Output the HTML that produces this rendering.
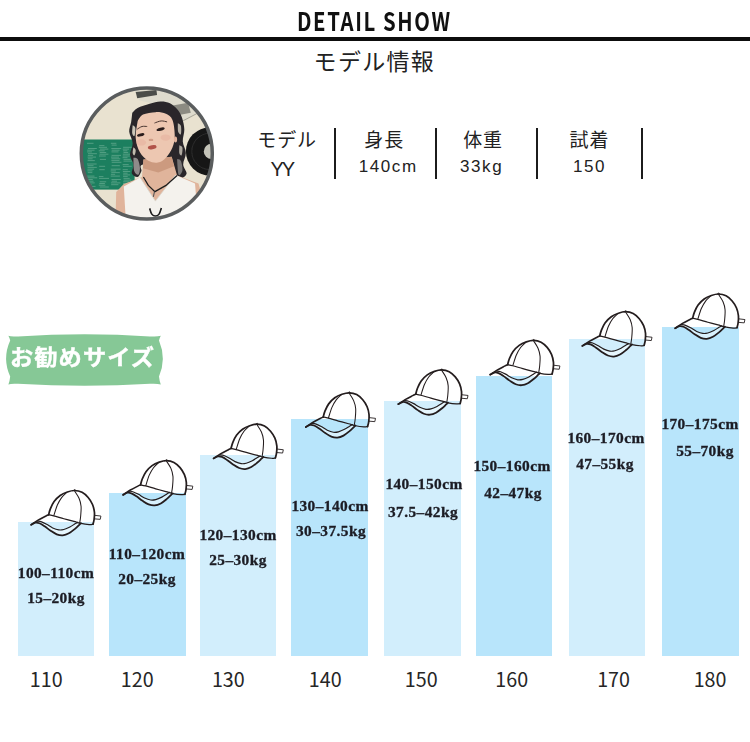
<!DOCTYPE html>
<html lang="ja">
<head>
<meta charset="utf-8">
<title>DETAIL SHOW</title>
<style>
html,body{margin:0;padding:0;background:#fff;}
body{width:750px;height:742px;position:relative;overflow:hidden;font-family:"Liberation Sans","Noto Sans CJK JP",sans-serif;color:#1a1a1a;}
.abs{position:absolute;white-space:nowrap;line-height:1;}
#title{left:297.2px;top:8.3px;font-family:"Noto Sans CJK JP","Liberation Sans",sans-serif;font-weight:700;font-size:25.4px;letter-spacing:2px;color:#111;transform-origin:0 0;transform:scaleX(0.8);}
#rule{position:absolute;left:0;top:36.7px;width:750px;height:4px;background:#0d0d0d;}
#sub{left:313.6px;top:48.8px;font-family:"Noto Sans CJK JP","Liberation Sans",sans-serif;font-size:23px;letter-spacing:1.3px;color:#222;}
.lab{font-family:"Noto Sans CJK JP","Liberation Sans",sans-serif;font-size:19px;letter-spacing:0.9px;color:#222;}
.val{font-family:"Liberation Sans","Noto Sans CJK JP",sans-serif;font-size:17px;letter-spacing:1.6px;color:#222;}
.sep{position:absolute;width:2px;top:127.5px;height:51.5px;background:#1c1c1c;}
.bar{position:absolute;}
.l{background:#d2eefc;}
.d{background:#b8e5fb;}
.bt{position:absolute;white-space:nowrap;line-height:1;font-family:"Liberation Serif","Noto Serif CJK SC",serif;font-weight:bold;font-size:14.5px;letter-spacing:0.4px;color:#1c1c24;text-align:center;transform:scaleX(1.06);-webkit-text-stroke:0.3px #1c1c24;}
.xl{position:absolute;white-space:nowrap;line-height:1;font-family:"Noto Sans CJK JP","Liberation Sans",sans-serif;font-size:19.7px;color:#262626;top:668.9px;}
#badgeTxt{left:10px;top:344.5px;font-family:"Noto Sans CJK JP","Liberation Sans",sans-serif;font-weight:bold;font-size:21.5px;letter-spacing:1px;color:#fff;transform-origin:0 0;transform:scaleX(1.08);-webkit-text-stroke:0.4px #fff;}
svg{position:absolute;left:0;top:0;}
</style>
</head>
<body>
<div id="title" class="abs">DETAIL SHOW</div>
<div id="rule"></div>
<div id="sub" class="abs">モデル情報</div>

<!-- model info -->
<div class="abs lab" style="left:257.3px;top:129px;">モデル</div>
<div class="abs val" style="left:270.5px;top:159px;font-size:20px;letter-spacing:-2px;">YY</div>
<div class="sep" style="left:334px;"></div>
<div class="abs lab" style="left:364.3px;top:129px;">身長</div>
<div class="abs val" style="left:358.7px;top:158px;">140cm</div>
<div class="sep" style="left:435px;"></div>
<div class="abs lab" style="left:463.2px;top:129px;">体重</div>
<div class="abs val" style="left:460px;top:158px;">33kg</div>
<div class="sep" style="left:536px;"></div>
<div class="abs lab" style="left:569.5px;top:129px;">試着</div>
<div class="abs val" style="left:573px;top:158px;">150</div>
<div class="sep" style="left:640.5px;"></div>

<!-- bars -->
<div class="bar l" style="left:17.7px;top:521.5px;width:76.6px;height:134.2px;"></div>
<div class="bar d" style="left:109.3px;top:492.5px;width:76.5px;height:163.2px;"></div>
<div class="bar l" style="left:200px;top:455.3px;width:76px;height:200.4px;"></div>
<div class="bar d" style="left:291.3px;top:419.2px;width:76.5px;height:236.5px;"></div>
<div class="bar l" style="left:384.2px;top:401.3px;width:76.6px;height:254.4px;"></div>
<div class="bar d" style="left:476px;top:375.5px;width:76.2px;height:280.2px;"></div>
<div class="bar l" style="left:569.2px;top:339.3px;width:76.3px;height:316.4px;"></div>
<div class="bar d" style="left:662px;top:327.3px;width:76.8px;height:328.4px;"></div>

<svg width="750" height="742" viewBox="0 0 750 742">
<defs><clipPath id="pc"><circle cx="146.8" cy="153.5" r="65.3"/></clipPath><filter id="bl" x="-5%" y="-5%" width="110%" height="110%"><feGaussianBlur stdDeviation="0.55"/></filter></defs>
<g clip-path="url(#pc)"><g filter="url(#bl)">
<rect x="76" y="84" width="142" height="142" fill="#e9e2d0"/>
<polygon points="132.5,86.9 179.3,85.0 198.5,112.7 185.1,121.3 166.0,107.0 139.2,100.3" fill="#dedbcd"/>
<polygon points="135.7,92.0 156.4,90.1 157.1,95.1 137.2,98.2" fill="#4c4d48"/>
<polygon points="172.7,105.4 188.0,102.8 190.8,112.7 176.5,115.6" fill="#8c8b82"/>
<polyline points="183.2,120.7 198.5,112.7 213.8,106.6" fill="none" stroke="#8f8c80" stroke-width="0.7"/>
<polyline points="83.7,139.5 83.7,103.1" fill="none" stroke="#b9b5a6" stroke-width="0.6"/>
<rect x="82.9" y="139.5" width="51.7" height="50.1" fill="#1f7f5f"/>
<path d="M87.0 143.3H93.5 M88.0 148.5H96.8 M87.2 150.2H94.5 M87.1 151.9H91.9 M88.0 153.7H96.9 M87.8 155.4H93.1 M87.6 157.1H96.0 M87.9 158.8H92.6 M87.7 160.6H94.8 M87.0 164.0H96.6 M87.5 165.7H93.5 M87.6 167.4H96.8 M87.5 169.2H94.1 M87.4 170.9H92.5 M87.8 172.6H92.3 M87.2 176.1H94.5 M87.3 177.8H97.2 M87.4 179.5H92.8 M87.2 181.2H93.5 M87.3 182.9H94.7 M87.0 184.7H91.6 M87.8 186.4H95.5 M99.2 145.6H104.4 M98.8 147.3H107.0 M99.9 149.1H108.3 M98.8 150.8H104.7 M99.7 152.5H106.2 M99.5 154.2H108.4 M99.0 156.0H105.8 M99.9 159.4H106.0 M99.2 166.3H105.1 M99.3 169.7H104.7 M98.9 176.6H103.4 M99.1 178.4H109.0 M99.7 181.8H106.2 M99.3 183.5H104.9 M98.8 185.2H105.4 M99.8 187.0H108.8 M110.9 143.3H116.3 M111.6 145.1H116.7 M111.3 148.5H121.2 M111.7 150.2H119.6 M111.5 151.9H118.5 M111.6 155.4H121.0 M111.0 157.1H119.0 M111.4 158.8H120.3 M111.4 160.6H119.5 M111.7 162.3H121.4 M111.7 165.7H119.8 M110.8 169.2H120.6 M110.7 170.9H115.9 M111.3 172.6H119.8 M110.9 174.3H115.1 M110.7 176.1H119.9 M111.5 179.5H120.8 M111.7 181.2H117.0 M111.0 182.9H120.4 M111.2 184.7H118.4 M123.1 147.3H132.2 M122.7 149.1H129.0 M123.1 150.8H127.4 M123.5 152.5H128.2 M122.9 154.2H131.7 M122.8 156.0H129.8 M122.6 157.7H127.5 M123.5 159.4H130.7 M123.5 161.1H132.2 M122.7 164.6H128.7 M123.0 166.3H131.8 M122.7 169.7H127.8 M122.9 171.5H130.2 M123.3 173.2H127.6 M123.1 174.9H130.1 M123.1 176.6H127.7 M123.5 178.4H129.7 M123.6 180.1H131.4 M123.2 181.8H129.2 M123.0 183.5H132.5 M123.5 185.2H132.2 M123.0 187.0H128.0" stroke="#7fbda3" stroke-width="0.75" opacity="0.7" fill="none"/>
<circle cx="210.0" cy="151.4" r="24.1" fill="#171717"/>
<circle cx="210.0" cy="151.4" r="18.2" fill="none" stroke="#3a3a3a" stroke-width="0.6"/>
<circle cx="211.5" cy="151.4" r="7.7" fill="#c4c3b8"/>
<path d="M132.27 112.71 C133.16 111.91 134.72 109.42 137.63 107.92 C140.53 106.42 145.89 104.80 149.68 103.71 C153.48 102.63 157.02 101.51 160.40 101.42 C163.78 101.32 167.16 101.83 169.97 103.14 C172.78 104.45 175.23 106.84 177.24 109.26 C179.25 111.69 180.85 114.30 182.03 117.68 C183.21 121.07 184.20 125.59 184.33 129.55 C184.45 133.51 182.54 137.52 182.79 141.42 C183.05 145.31 185.79 149.07 185.86 152.90 C185.92 156.73 183.05 160.94 183.18 164.38 C183.30 167.83 187.00 171.27 186.62 173.57 C186.24 175.87 182.89 178.10 180.88 178.16 C178.87 178.23 176.16 176.25 174.56 173.95 C172.97 171.66 176.57 165.98 171.31 164.38 C166.05 162.79 147.96 163.27 142.99 164.38 C138.01 165.50 142.35 168.98 141.45 171.08 C140.56 173.19 139.22 176.60 137.63 177.01 C136.03 177.43 132.59 175.67 131.89 173.57 C131.18 171.46 133.74 167.51 133.42 164.38 C133.10 161.26 130.10 158.32 129.97 154.81 C129.84 151.30 132.78 147.16 132.65 143.33 C132.52 139.50 129.46 135.36 129.21 131.85 C128.95 128.34 130.61 125.47 131.12 122.28 C131.63 119.09 132.08 114.30 132.27 112.71Z" fill="#29272a"/>
<path d="M132.65 125.15 C133.10 125.56 135.01 125.88 135.33 127.64 C135.65 129.39 135.07 134.72 134.56 135.67 C134.05 136.63 132.59 135.13 132.27 133.38 C131.95 131.62 132.59 126.52 132.65 125.15Z" fill="#e9e2d0" opacity="0.85"/>
<path d="M133.42 147.16 C133.80 147.64 135.52 148.69 135.71 150.03 C135.90 151.37 135.07 154.72 134.56 155.20 C134.05 155.67 132.84 154.24 132.65 152.90 C132.46 151.56 133.29 148.11 133.42 147.16Z" fill="#e9e2d0" opacity="0.8"/>
<path d="M177.82 123.23 C178.33 123.65 180.37 123.90 180.88 125.72 C181.39 127.54 181.33 133.12 180.88 134.14 C180.43 135.16 178.71 133.67 178.20 131.85 C177.69 130.03 177.88 124.67 177.82 123.23Z" fill="#ddd7c8" opacity="0.8"/>
<path d="M179.35 145.24 C179.86 145.63 182.03 145.88 182.41 147.54 C182.79 149.20 182.16 154.24 181.65 155.20 C181.14 156.15 179.73 154.94 179.35 153.28 C178.97 151.62 179.35 146.58 179.35 145.24Z" fill="#ddd7c8" opacity="0.75"/>
<path d="M133.42 157.68 C134.12 157.91 136.54 157.33 137.63 159.02 C138.71 160.71 139.80 165.21 139.92 167.83 C140.05 170.44 139.35 174.18 138.39 174.72 C137.44 175.26 135.01 173.92 134.18 171.08 C133.35 168.24 133.54 159.92 133.42 157.68Z" fill="#a9a5a3" opacity="0.8"/>
<path d="M177.05 159.02 C177.69 159.34 179.99 159.02 180.88 160.94 C181.77 162.85 182.79 168.21 182.41 170.51 C182.03 172.80 179.48 176.63 178.58 174.72 C177.69 172.80 177.31 161.64 177.05 159.02Z" fill="#9a9795" opacity="0.7"/>
<polygon points="143.4,159.6 171.7,156.7 177.1,175.5 198.5,183.5 202.7,198.8 198.5,223.7 115.4,223.7 116.2,192.1 123.8,183.9 142.0,177.0" fill="#e0b49b"/>
<polygon points="143.4,159.6 171.7,156.7 174.0,166.3 158.3,172.4 143.0,168.2" fill="#c8957a" opacity="0.85"/>
<path d="M137.63 121.13 C138.52 120.04 139.99 116.12 142.99 114.62 C145.98 113.12 151.79 112.26 155.62 112.13 C159.44 112.01 163.15 112.55 165.95 113.86 C168.76 115.16 170.99 116.34 172.46 119.98 C173.93 123.62 174.76 131.08 174.76 135.67 C174.76 140.27 173.93 143.87 172.46 147.54 C170.99 151.21 168.38 155.20 165.95 157.68 C163.53 160.17 160.85 161.96 157.91 162.47 C154.98 162.98 151.34 162.44 148.34 160.75 C145.35 159.06 142.03 156.12 139.92 152.33 C137.82 148.53 136.10 143.17 135.71 137.97 C135.33 132.77 137.31 123.94 137.63 121.13Z" fill="#edc7b1"/>
<ellipse cx="175.5" cy="139.5" rx="1.6" ry="3" fill="#e2b49e"/>
<path d="M137.24 129.17 C138.04 128.72 140.37 126.93 142.03 126.49 C143.69 126.04 146.33 126.49 147.20 126.49" stroke="#4a3631" stroke-width="1" fill="none"/>
<path d="M154.47 123.04 C155.59 122.69 159.06 121.13 161.17 120.94 C163.27 120.75 166.11 121.74 167.10 121.89" stroke="#4a3631" stroke-width="1" fill="none"/>
<ellipse cx="140.7" cy="134.9" rx="3.8" ry="1.5" fill="#2b1f1e" transform="rotate(-14 140.7 134.9)"/>
<ellipse cx="160.6" cy="129.2" rx="4.2" ry="1.5" fill="#2b1f1e" transform="rotate(-14 160.6 129.2)"/>
<ellipse cx="151.0" cy="139.9" rx="2.4" ry="1.2" fill="#cf9c86"/>
<ellipse cx="152.2" cy="147.3" rx="4.4" ry="2" fill="#b1524a" transform="rotate(-10 152.2 147.3)"/>
<ellipse cx="141.1" cy="142.4" rx="5" ry="3.2" fill="#e2a392" opacity="0.35"/>
<ellipse cx="165.6" cy="137.6" rx="5" ry="3.2" fill="#e2a392" opacity="0.35"/>
<polygon points="123.8,186.4 140.1,177.4 155.4,201.1 175.5,175.1 195.0,183.5 198.5,225.6 126.1,225.6" fill="#f4f2ed"/>
<polyline points="140.1,177.4 155.4,201.1 175.5,175.1" fill="none" stroke="#d9d5cc" stroke-width="0.8"/>
<polyline points="143.4,177.0 148.3,185.4 154.9,191.6 166.0,185.4 177.1,175.5" fill="none" stroke="#1f1f1f" stroke-width="1.3"/>
<polyline points="154.5,191.6 153.3,196.9" fill="none" stroke="#555" stroke-width="1.1"/>
<path d="M149.68 208.40 C150.04 209.36 150.83 212.87 151.79 214.14 C152.75 215.42 154.21 216.06 155.43 216.06 C156.64 216.06 158.07 215.48 159.06 214.14 C160.05 212.80 160.98 209.04 161.36 208.02" fill="none" stroke="#1a1a1a" stroke-width="1.6"/>
</g></g>
<circle cx="146.8" cy="153.5" r="65.5" fill="none" stroke="#5a5d5e" stroke-width="3.5"/>
<path d="M8.4 335.8 Q11 337 18 336.4 Q85 332.2 150 336.4 Q157 337 160.8 335.8 Q159.6 338 159 340.6 Q166.6 358.6 159 376.6 Q159.6 382 160.8 384.4 Q157 383.4 150 383.8 Q85 387.6 18 383.8 Q11 383.4 8.4 384.4 Q9.6 382 10.2 376.6 Q2 358.6 10.2 340.6 Q9.6 338 8.4 335.8Z" fill="#86c896"/>
<g transform="translate(31.2 489.8) scale(1 0.985)" fill="none" stroke="#241d1e" stroke-linecap="round" stroke-linejoin="round">
<path d="M4.26 33.34 C4.93 33.44 6.79 33.34 8.31 33.95 C9.83 34.56 11.52 35.72 13.38 36.99 C15.23 38.25 17.43 40.18 19.46 41.55 C21.48 42.92 23.51 44.42 25.54 45.20 C27.56 45.97 29.59 46.38 31.62 46.21 C33.64 46.04 35.67 45.28 37.70 44.18 C39.72 43.09 42.09 41.02 43.78 39.62 C45.47 38.22 46.85 36.72 47.83 35.77 C48.81 34.83 49.35 34.25 49.66 33.95 L46.62 32.93 C46.14 33.20 45.10 33.75 43.78 34.56 C42.46 35.37 40.57 36.84 38.71 37.80 C36.85 38.76 34.49 39.84 32.63 40.33 C30.77 40.82 29.42 41.01 27.56 40.74 C25.71 40.47 23.51 39.67 21.48 38.71 C19.46 37.75 17.26 35.99 15.40 34.96 C13.55 33.93 11.89 33.07 10.34 32.53 C8.78 31.99 6.79 31.85 6.08 31.72Z" fill="#fff" fill-opacity="0.45" stroke="none"/>
<path d="M17.43 25.33 C17.72 24.34 18.24 21.58 19.15 19.36 C20.06 17.13 21.26 14.22 22.90 11.96 C24.54 9.69 26.77 7.40 28.98 5.78 C31.20 4.15 33.80 3.07 36.18 2.23 C38.56 1.38 40.82 0.66 43.27 0.71 C45.72 0.76 48.59 1.35 50.87 2.53 C53.15 3.72 55.21 5.74 56.95 7.80 C58.69 9.86 60.26 12.40 61.31 14.90 C62.36 17.40 62.96 20.30 63.23 22.80 C63.50 25.30 63.17 27.87 62.93 29.89 C62.69 31.92 62.00 34.12 61.82 34.96" stroke-width="1.75"/>
<path d="M17.43 25.33 C18.27 25.52 19.96 25.77 22.50 26.45 C25.03 27.12 29.25 28.44 32.63 29.39 C36.01 30.33 39.89 31.33 42.76 32.12 C45.64 32.92 47.32 33.63 49.86 34.15 C52.39 34.67 55.97 35.13 57.97 35.27 C59.96 35.40 61.17 35.01 61.82 34.96" stroke-width="1.25"/>
<path d="M0.00 35.47 C1.22 34.66 4.90 32.04 7.30 30.60 C9.69 29.17 12.70 27.73 14.39 26.85 C16.08 25.98 16.92 25.59 17.43 25.33" stroke-width="1.6"/>
<path d="M0.00 35.47 C0.71 35.11 2.87 33.59 4.26 33.34 C5.64 33.09 6.79 33.34 8.31 33.95 C9.83 34.56 11.52 35.72 13.38 36.99 C15.23 38.25 17.43 40.18 19.46 41.55 C21.48 42.92 23.51 44.42 25.54 45.20 C27.56 45.97 29.59 46.38 31.62 46.21 C33.64 46.04 35.67 45.28 37.70 44.18 C39.72 43.09 42.09 41.02 43.78 39.62 C45.47 38.22 46.85 36.72 47.83 35.77 C48.81 34.83 49.35 34.25 49.66 33.95" stroke-width="1.8"/>
<path d="M6.08 31.72 C6.79 31.85 8.78 31.99 10.34 32.53 C11.89 33.07 13.55 33.93 15.40 34.96 C17.26 35.99 19.46 37.75 21.48 38.71 C23.51 39.67 25.71 40.47 27.56 40.74 C29.42 41.01 30.77 40.82 32.63 40.33 C34.49 39.84 36.85 38.76 38.71 37.80 C40.57 36.84 42.46 35.37 43.78 34.56 C45.10 33.75 46.14 33.20 46.62 32.93" stroke-width="1.2"/>
<path d="M43.27 1.01 C44.03 2.28 46.73 6.00 47.83 8.61 C48.93 11.23 49.59 13.68 49.86 16.72 C50.13 19.76 49.69 24.02 49.45 26.85 C49.22 29.69 48.61 32.60 48.44 33.75" stroke-width="1.05"/>
<path d="M35.47 2.74 C34.62 3.60 31.96 5.78 30.40 7.90 C28.85 10.03 27.43 12.48 26.15 15.50 C24.86 18.53 23.27 24.29 22.70 26.04" stroke-width="1.05"/>
<path d="M42.06 1.01 C42.31 0.81 43.09 -0.22 43.58 -0.20 C44.06 -0.19 44.76 0.90 44.99 1.11" stroke-width="1.0"/>
<path d="M63.54 25.94 L69.72 26.65 L69.01 30.00 L63.13 29.49" stroke-width="0.9"/>
</g>
<g transform="translate(123.1 459.9) scale(1 0.985)" fill="none" stroke="#241d1e" stroke-linecap="round" stroke-linejoin="round">
<path d="M4.26 33.34 C4.93 33.44 6.79 33.34 8.31 33.95 C9.83 34.56 11.52 35.72 13.38 36.99 C15.23 38.25 17.43 40.18 19.46 41.55 C21.48 42.92 23.51 44.42 25.54 45.20 C27.56 45.97 29.59 46.38 31.62 46.21 C33.64 46.04 35.67 45.28 37.70 44.18 C39.72 43.09 42.09 41.02 43.78 39.62 C45.47 38.22 46.85 36.72 47.83 35.77 C48.81 34.83 49.35 34.25 49.66 33.95 L46.62 32.93 C46.14 33.20 45.10 33.75 43.78 34.56 C42.46 35.37 40.57 36.84 38.71 37.80 C36.85 38.76 34.49 39.84 32.63 40.33 C30.77 40.82 29.42 41.01 27.56 40.74 C25.71 40.47 23.51 39.67 21.48 38.71 C19.46 37.75 17.26 35.99 15.40 34.96 C13.55 33.93 11.89 33.07 10.34 32.53 C8.78 31.99 6.79 31.85 6.08 31.72Z" fill="#fff" fill-opacity="0.45" stroke="none"/>
<path d="M17.43 25.33 C17.72 24.34 18.24 21.58 19.15 19.36 C20.06 17.13 21.26 14.22 22.90 11.96 C24.54 9.69 26.77 7.40 28.98 5.78 C31.20 4.15 33.80 3.07 36.18 2.23 C38.56 1.38 40.82 0.66 43.27 0.71 C45.72 0.76 48.59 1.35 50.87 2.53 C53.15 3.72 55.21 5.74 56.95 7.80 C58.69 9.86 60.26 12.40 61.31 14.90 C62.36 17.40 62.96 20.30 63.23 22.80 C63.50 25.30 63.17 27.87 62.93 29.89 C62.69 31.92 62.00 34.12 61.82 34.96" stroke-width="1.75"/>
<path d="M17.43 25.33 C18.27 25.52 19.96 25.77 22.50 26.45 C25.03 27.12 29.25 28.44 32.63 29.39 C36.01 30.33 39.89 31.33 42.76 32.12 C45.64 32.92 47.32 33.63 49.86 34.15 C52.39 34.67 55.97 35.13 57.97 35.27 C59.96 35.40 61.17 35.01 61.82 34.96" stroke-width="1.25"/>
<path d="M0.00 35.47 C1.22 34.66 4.90 32.04 7.30 30.60 C9.69 29.17 12.70 27.73 14.39 26.85 C16.08 25.98 16.92 25.59 17.43 25.33" stroke-width="1.6"/>
<path d="M0.00 35.47 C0.71 35.11 2.87 33.59 4.26 33.34 C5.64 33.09 6.79 33.34 8.31 33.95 C9.83 34.56 11.52 35.72 13.38 36.99 C15.23 38.25 17.43 40.18 19.46 41.55 C21.48 42.92 23.51 44.42 25.54 45.20 C27.56 45.97 29.59 46.38 31.62 46.21 C33.64 46.04 35.67 45.28 37.70 44.18 C39.72 43.09 42.09 41.02 43.78 39.62 C45.47 38.22 46.85 36.72 47.83 35.77 C48.81 34.83 49.35 34.25 49.66 33.95" stroke-width="1.8"/>
<path d="M6.08 31.72 C6.79 31.85 8.78 31.99 10.34 32.53 C11.89 33.07 13.55 33.93 15.40 34.96 C17.26 35.99 19.46 37.75 21.48 38.71 C23.51 39.67 25.71 40.47 27.56 40.74 C29.42 41.01 30.77 40.82 32.63 40.33 C34.49 39.84 36.85 38.76 38.71 37.80 C40.57 36.84 42.46 35.37 43.78 34.56 C45.10 33.75 46.14 33.20 46.62 32.93" stroke-width="1.2"/>
<path d="M43.27 1.01 C44.03 2.28 46.73 6.00 47.83 8.61 C48.93 11.23 49.59 13.68 49.86 16.72 C50.13 19.76 49.69 24.02 49.45 26.85 C49.22 29.69 48.61 32.60 48.44 33.75" stroke-width="1.05"/>
<path d="M35.47 2.74 C34.62 3.60 31.96 5.78 30.40 7.90 C28.85 10.03 27.43 12.48 26.15 15.50 C24.86 18.53 23.27 24.29 22.70 26.04" stroke-width="1.05"/>
<path d="M42.06 1.01 C42.31 0.81 43.09 -0.22 43.58 -0.20 C44.06 -0.19 44.76 0.90 44.99 1.11" stroke-width="1.0"/>
<path d="M63.54 25.94 L69.72 26.65 L69.01 30.00 L63.13 29.49" stroke-width="0.9"/>
</g>
<g transform="translate(213.6 423.5) scale(1 0.985)" fill="none" stroke="#241d1e" stroke-linecap="round" stroke-linejoin="round">
<path d="M4.26 33.34 C4.93 33.44 6.79 33.34 8.31 33.95 C9.83 34.56 11.52 35.72 13.38 36.99 C15.23 38.25 17.43 40.18 19.46 41.55 C21.48 42.92 23.51 44.42 25.54 45.20 C27.56 45.97 29.59 46.38 31.62 46.21 C33.64 46.04 35.67 45.28 37.70 44.18 C39.72 43.09 42.09 41.02 43.78 39.62 C45.47 38.22 46.85 36.72 47.83 35.77 C48.81 34.83 49.35 34.25 49.66 33.95 L46.62 32.93 C46.14 33.20 45.10 33.75 43.78 34.56 C42.46 35.37 40.57 36.84 38.71 37.80 C36.85 38.76 34.49 39.84 32.63 40.33 C30.77 40.82 29.42 41.01 27.56 40.74 C25.71 40.47 23.51 39.67 21.48 38.71 C19.46 37.75 17.26 35.99 15.40 34.96 C13.55 33.93 11.89 33.07 10.34 32.53 C8.78 31.99 6.79 31.85 6.08 31.72Z" fill="#fff" fill-opacity="0.45" stroke="none"/>
<path d="M17.43 25.33 C17.72 24.34 18.24 21.58 19.15 19.36 C20.06 17.13 21.26 14.22 22.90 11.96 C24.54 9.69 26.77 7.40 28.98 5.78 C31.20 4.15 33.80 3.07 36.18 2.23 C38.56 1.38 40.82 0.66 43.27 0.71 C45.72 0.76 48.59 1.35 50.87 2.53 C53.15 3.72 55.21 5.74 56.95 7.80 C58.69 9.86 60.26 12.40 61.31 14.90 C62.36 17.40 62.96 20.30 63.23 22.80 C63.50 25.30 63.17 27.87 62.93 29.89 C62.69 31.92 62.00 34.12 61.82 34.96" stroke-width="1.75"/>
<path d="M17.43 25.33 C18.27 25.52 19.96 25.77 22.50 26.45 C25.03 27.12 29.25 28.44 32.63 29.39 C36.01 30.33 39.89 31.33 42.76 32.12 C45.64 32.92 47.32 33.63 49.86 34.15 C52.39 34.67 55.97 35.13 57.97 35.27 C59.96 35.40 61.17 35.01 61.82 34.96" stroke-width="1.25"/>
<path d="M0.00 35.47 C1.22 34.66 4.90 32.04 7.30 30.60 C9.69 29.17 12.70 27.73 14.39 26.85 C16.08 25.98 16.92 25.59 17.43 25.33" stroke-width="1.6"/>
<path d="M0.00 35.47 C0.71 35.11 2.87 33.59 4.26 33.34 C5.64 33.09 6.79 33.34 8.31 33.95 C9.83 34.56 11.52 35.72 13.38 36.99 C15.23 38.25 17.43 40.18 19.46 41.55 C21.48 42.92 23.51 44.42 25.54 45.20 C27.56 45.97 29.59 46.38 31.62 46.21 C33.64 46.04 35.67 45.28 37.70 44.18 C39.72 43.09 42.09 41.02 43.78 39.62 C45.47 38.22 46.85 36.72 47.83 35.77 C48.81 34.83 49.35 34.25 49.66 33.95" stroke-width="1.8"/>
<path d="M6.08 31.72 C6.79 31.85 8.78 31.99 10.34 32.53 C11.89 33.07 13.55 33.93 15.40 34.96 C17.26 35.99 19.46 37.75 21.48 38.71 C23.51 39.67 25.71 40.47 27.56 40.74 C29.42 41.01 30.77 40.82 32.63 40.33 C34.49 39.84 36.85 38.76 38.71 37.80 C40.57 36.84 42.46 35.37 43.78 34.56 C45.10 33.75 46.14 33.20 46.62 32.93" stroke-width="1.2"/>
<path d="M43.27 1.01 C44.03 2.28 46.73 6.00 47.83 8.61 C48.93 11.23 49.59 13.68 49.86 16.72 C50.13 19.76 49.69 24.02 49.45 26.85 C49.22 29.69 48.61 32.60 48.44 33.75" stroke-width="1.05"/>
<path d="M35.47 2.74 C34.62 3.60 31.96 5.78 30.40 7.90 C28.85 10.03 27.43 12.48 26.15 15.50 C24.86 18.53 23.27 24.29 22.70 26.04" stroke-width="1.05"/>
<path d="M42.06 1.01 C42.31 0.81 43.09 -0.22 43.58 -0.20 C44.06 -0.19 44.76 0.90 44.99 1.11" stroke-width="1.0"/>
<path d="M63.54 25.94 L69.72 26.65 L69.01 30.00 L63.13 29.49" stroke-width="0.9"/>
</g>
<g transform="translate(305.8 392.1) scale(1 0.985)" fill="none" stroke="#241d1e" stroke-linecap="round" stroke-linejoin="round">
<path d="M4.26 33.34 C4.93 33.44 6.79 33.34 8.31 33.95 C9.83 34.56 11.52 35.72 13.38 36.99 C15.23 38.25 17.43 40.18 19.46 41.55 C21.48 42.92 23.51 44.42 25.54 45.20 C27.56 45.97 29.59 46.38 31.62 46.21 C33.64 46.04 35.67 45.28 37.70 44.18 C39.72 43.09 42.09 41.02 43.78 39.62 C45.47 38.22 46.85 36.72 47.83 35.77 C48.81 34.83 49.35 34.25 49.66 33.95 L46.62 32.93 C46.14 33.20 45.10 33.75 43.78 34.56 C42.46 35.37 40.57 36.84 38.71 37.80 C36.85 38.76 34.49 39.84 32.63 40.33 C30.77 40.82 29.42 41.01 27.56 40.74 C25.71 40.47 23.51 39.67 21.48 38.71 C19.46 37.75 17.26 35.99 15.40 34.96 C13.55 33.93 11.89 33.07 10.34 32.53 C8.78 31.99 6.79 31.85 6.08 31.72Z" fill="#fff" fill-opacity="0.45" stroke="none"/>
<path d="M17.43 25.33 C17.72 24.34 18.24 21.58 19.15 19.36 C20.06 17.13 21.26 14.22 22.90 11.96 C24.54 9.69 26.77 7.40 28.98 5.78 C31.20 4.15 33.80 3.07 36.18 2.23 C38.56 1.38 40.82 0.66 43.27 0.71 C45.72 0.76 48.59 1.35 50.87 2.53 C53.15 3.72 55.21 5.74 56.95 7.80 C58.69 9.86 60.26 12.40 61.31 14.90 C62.36 17.40 62.96 20.30 63.23 22.80 C63.50 25.30 63.17 27.87 62.93 29.89 C62.69 31.92 62.00 34.12 61.82 34.96" stroke-width="1.75"/>
<path d="M17.43 25.33 C18.27 25.52 19.96 25.77 22.50 26.45 C25.03 27.12 29.25 28.44 32.63 29.39 C36.01 30.33 39.89 31.33 42.76 32.12 C45.64 32.92 47.32 33.63 49.86 34.15 C52.39 34.67 55.97 35.13 57.97 35.27 C59.96 35.40 61.17 35.01 61.82 34.96" stroke-width="1.25"/>
<path d="M0.00 35.47 C1.22 34.66 4.90 32.04 7.30 30.60 C9.69 29.17 12.70 27.73 14.39 26.85 C16.08 25.98 16.92 25.59 17.43 25.33" stroke-width="1.6"/>
<path d="M0.00 35.47 C0.71 35.11 2.87 33.59 4.26 33.34 C5.64 33.09 6.79 33.34 8.31 33.95 C9.83 34.56 11.52 35.72 13.38 36.99 C15.23 38.25 17.43 40.18 19.46 41.55 C21.48 42.92 23.51 44.42 25.54 45.20 C27.56 45.97 29.59 46.38 31.62 46.21 C33.64 46.04 35.67 45.28 37.70 44.18 C39.72 43.09 42.09 41.02 43.78 39.62 C45.47 38.22 46.85 36.72 47.83 35.77 C48.81 34.83 49.35 34.25 49.66 33.95" stroke-width="1.8"/>
<path d="M6.08 31.72 C6.79 31.85 8.78 31.99 10.34 32.53 C11.89 33.07 13.55 33.93 15.40 34.96 C17.26 35.99 19.46 37.75 21.48 38.71 C23.51 39.67 25.71 40.47 27.56 40.74 C29.42 41.01 30.77 40.82 32.63 40.33 C34.49 39.84 36.85 38.76 38.71 37.80 C40.57 36.84 42.46 35.37 43.78 34.56 C45.10 33.75 46.14 33.20 46.62 32.93" stroke-width="1.2"/>
<path d="M43.27 1.01 C44.03 2.28 46.73 6.00 47.83 8.61 C48.93 11.23 49.59 13.68 49.86 16.72 C50.13 19.76 49.69 24.02 49.45 26.85 C49.22 29.69 48.61 32.60 48.44 33.75" stroke-width="1.05"/>
<path d="M35.47 2.74 C34.62 3.60 31.96 5.78 30.40 7.90 C28.85 10.03 27.43 12.48 26.15 15.50 C24.86 18.53 23.27 24.29 22.70 26.04" stroke-width="1.05"/>
<path d="M42.06 1.01 C42.31 0.81 43.09 -0.22 43.58 -0.20 C44.06 -0.19 44.76 0.90 44.99 1.11" stroke-width="1.0"/>
<path d="M63.54 25.94 L69.72 26.65 L69.01 30.00 L63.13 29.49" stroke-width="0.9"/>
</g>
<g transform="translate(398.3 369.2) scale(1 0.985)" fill="none" stroke="#241d1e" stroke-linecap="round" stroke-linejoin="round">
<path d="M4.26 33.34 C4.93 33.44 6.79 33.34 8.31 33.95 C9.83 34.56 11.52 35.72 13.38 36.99 C15.23 38.25 17.43 40.18 19.46 41.55 C21.48 42.92 23.51 44.42 25.54 45.20 C27.56 45.97 29.59 46.38 31.62 46.21 C33.64 46.04 35.67 45.28 37.70 44.18 C39.72 43.09 42.09 41.02 43.78 39.62 C45.47 38.22 46.85 36.72 47.83 35.77 C48.81 34.83 49.35 34.25 49.66 33.95 L46.62 32.93 C46.14 33.20 45.10 33.75 43.78 34.56 C42.46 35.37 40.57 36.84 38.71 37.80 C36.85 38.76 34.49 39.84 32.63 40.33 C30.77 40.82 29.42 41.01 27.56 40.74 C25.71 40.47 23.51 39.67 21.48 38.71 C19.46 37.75 17.26 35.99 15.40 34.96 C13.55 33.93 11.89 33.07 10.34 32.53 C8.78 31.99 6.79 31.85 6.08 31.72Z" fill="#fff" fill-opacity="0.45" stroke="none"/>
<path d="M17.43 25.33 C17.72 24.34 18.24 21.58 19.15 19.36 C20.06 17.13 21.26 14.22 22.90 11.96 C24.54 9.69 26.77 7.40 28.98 5.78 C31.20 4.15 33.80 3.07 36.18 2.23 C38.56 1.38 40.82 0.66 43.27 0.71 C45.72 0.76 48.59 1.35 50.87 2.53 C53.15 3.72 55.21 5.74 56.95 7.80 C58.69 9.86 60.26 12.40 61.31 14.90 C62.36 17.40 62.96 20.30 63.23 22.80 C63.50 25.30 63.17 27.87 62.93 29.89 C62.69 31.92 62.00 34.12 61.82 34.96" stroke-width="1.75"/>
<path d="M17.43 25.33 C18.27 25.52 19.96 25.77 22.50 26.45 C25.03 27.12 29.25 28.44 32.63 29.39 C36.01 30.33 39.89 31.33 42.76 32.12 C45.64 32.92 47.32 33.63 49.86 34.15 C52.39 34.67 55.97 35.13 57.97 35.27 C59.96 35.40 61.17 35.01 61.82 34.96" stroke-width="1.25"/>
<path d="M0.00 35.47 C1.22 34.66 4.90 32.04 7.30 30.60 C9.69 29.17 12.70 27.73 14.39 26.85 C16.08 25.98 16.92 25.59 17.43 25.33" stroke-width="1.6"/>
<path d="M0.00 35.47 C0.71 35.11 2.87 33.59 4.26 33.34 C5.64 33.09 6.79 33.34 8.31 33.95 C9.83 34.56 11.52 35.72 13.38 36.99 C15.23 38.25 17.43 40.18 19.46 41.55 C21.48 42.92 23.51 44.42 25.54 45.20 C27.56 45.97 29.59 46.38 31.62 46.21 C33.64 46.04 35.67 45.28 37.70 44.18 C39.72 43.09 42.09 41.02 43.78 39.62 C45.47 38.22 46.85 36.72 47.83 35.77 C48.81 34.83 49.35 34.25 49.66 33.95" stroke-width="1.8"/>
<path d="M6.08 31.72 C6.79 31.85 8.78 31.99 10.34 32.53 C11.89 33.07 13.55 33.93 15.40 34.96 C17.26 35.99 19.46 37.75 21.48 38.71 C23.51 39.67 25.71 40.47 27.56 40.74 C29.42 41.01 30.77 40.82 32.63 40.33 C34.49 39.84 36.85 38.76 38.71 37.80 C40.57 36.84 42.46 35.37 43.78 34.56 C45.10 33.75 46.14 33.20 46.62 32.93" stroke-width="1.2"/>
<path d="M43.27 1.01 C44.03 2.28 46.73 6.00 47.83 8.61 C48.93 11.23 49.59 13.68 49.86 16.72 C50.13 19.76 49.69 24.02 49.45 26.85 C49.22 29.69 48.61 32.60 48.44 33.75" stroke-width="1.05"/>
<path d="M35.47 2.74 C34.62 3.60 31.96 5.78 30.40 7.90 C28.85 10.03 27.43 12.48 26.15 15.50 C24.86 18.53 23.27 24.29 22.70 26.04" stroke-width="1.05"/>
<path d="M42.06 1.01 C42.31 0.81 43.09 -0.22 43.58 -0.20 C44.06 -0.19 44.76 0.90 44.99 1.11" stroke-width="1.0"/>
<path d="M63.54 25.94 L69.72 26.65 L69.01 30.00 L63.13 29.49" stroke-width="0.9"/>
</g>
<g transform="translate(490.2 339.7) scale(1 0.985)" fill="none" stroke="#241d1e" stroke-linecap="round" stroke-linejoin="round">
<path d="M4.26 33.34 C4.93 33.44 6.79 33.34 8.31 33.95 C9.83 34.56 11.52 35.72 13.38 36.99 C15.23 38.25 17.43 40.18 19.46 41.55 C21.48 42.92 23.51 44.42 25.54 45.20 C27.56 45.97 29.59 46.38 31.62 46.21 C33.64 46.04 35.67 45.28 37.70 44.18 C39.72 43.09 42.09 41.02 43.78 39.62 C45.47 38.22 46.85 36.72 47.83 35.77 C48.81 34.83 49.35 34.25 49.66 33.95 L46.62 32.93 C46.14 33.20 45.10 33.75 43.78 34.56 C42.46 35.37 40.57 36.84 38.71 37.80 C36.85 38.76 34.49 39.84 32.63 40.33 C30.77 40.82 29.42 41.01 27.56 40.74 C25.71 40.47 23.51 39.67 21.48 38.71 C19.46 37.75 17.26 35.99 15.40 34.96 C13.55 33.93 11.89 33.07 10.34 32.53 C8.78 31.99 6.79 31.85 6.08 31.72Z" fill="#fff" fill-opacity="0.45" stroke="none"/>
<path d="M17.43 25.33 C17.72 24.34 18.24 21.58 19.15 19.36 C20.06 17.13 21.26 14.22 22.90 11.96 C24.54 9.69 26.77 7.40 28.98 5.78 C31.20 4.15 33.80 3.07 36.18 2.23 C38.56 1.38 40.82 0.66 43.27 0.71 C45.72 0.76 48.59 1.35 50.87 2.53 C53.15 3.72 55.21 5.74 56.95 7.80 C58.69 9.86 60.26 12.40 61.31 14.90 C62.36 17.40 62.96 20.30 63.23 22.80 C63.50 25.30 63.17 27.87 62.93 29.89 C62.69 31.92 62.00 34.12 61.82 34.96" stroke-width="1.75"/>
<path d="M17.43 25.33 C18.27 25.52 19.96 25.77 22.50 26.45 C25.03 27.12 29.25 28.44 32.63 29.39 C36.01 30.33 39.89 31.33 42.76 32.12 C45.64 32.92 47.32 33.63 49.86 34.15 C52.39 34.67 55.97 35.13 57.97 35.27 C59.96 35.40 61.17 35.01 61.82 34.96" stroke-width="1.25"/>
<path d="M0.00 35.47 C1.22 34.66 4.90 32.04 7.30 30.60 C9.69 29.17 12.70 27.73 14.39 26.85 C16.08 25.98 16.92 25.59 17.43 25.33" stroke-width="1.6"/>
<path d="M0.00 35.47 C0.71 35.11 2.87 33.59 4.26 33.34 C5.64 33.09 6.79 33.34 8.31 33.95 C9.83 34.56 11.52 35.72 13.38 36.99 C15.23 38.25 17.43 40.18 19.46 41.55 C21.48 42.92 23.51 44.42 25.54 45.20 C27.56 45.97 29.59 46.38 31.62 46.21 C33.64 46.04 35.67 45.28 37.70 44.18 C39.72 43.09 42.09 41.02 43.78 39.62 C45.47 38.22 46.85 36.72 47.83 35.77 C48.81 34.83 49.35 34.25 49.66 33.95" stroke-width="1.8"/>
<path d="M6.08 31.72 C6.79 31.85 8.78 31.99 10.34 32.53 C11.89 33.07 13.55 33.93 15.40 34.96 C17.26 35.99 19.46 37.75 21.48 38.71 C23.51 39.67 25.71 40.47 27.56 40.74 C29.42 41.01 30.77 40.82 32.63 40.33 C34.49 39.84 36.85 38.76 38.71 37.80 C40.57 36.84 42.46 35.37 43.78 34.56 C45.10 33.75 46.14 33.20 46.62 32.93" stroke-width="1.2"/>
<path d="M43.27 1.01 C44.03 2.28 46.73 6.00 47.83 8.61 C48.93 11.23 49.59 13.68 49.86 16.72 C50.13 19.76 49.69 24.02 49.45 26.85 C49.22 29.69 48.61 32.60 48.44 33.75" stroke-width="1.05"/>
<path d="M35.47 2.74 C34.62 3.60 31.96 5.78 30.40 7.90 C28.85 10.03 27.43 12.48 26.15 15.50 C24.86 18.53 23.27 24.29 22.70 26.04" stroke-width="1.05"/>
<path d="M42.06 1.01 C42.31 0.81 43.09 -0.22 43.58 -0.20 C44.06 -0.19 44.76 0.90 44.99 1.11" stroke-width="1.0"/>
<path d="M63.54 25.94 L69.72 26.65 L69.01 30.00 L63.13 29.49" stroke-width="0.9"/>
</g>
<g transform="translate(582.3 311.0) scale(1 0.985)" fill="none" stroke="#241d1e" stroke-linecap="round" stroke-linejoin="round">
<path d="M4.26 33.34 C4.93 33.44 6.79 33.34 8.31 33.95 C9.83 34.56 11.52 35.72 13.38 36.99 C15.23 38.25 17.43 40.18 19.46 41.55 C21.48 42.92 23.51 44.42 25.54 45.20 C27.56 45.97 29.59 46.38 31.62 46.21 C33.64 46.04 35.67 45.28 37.70 44.18 C39.72 43.09 42.09 41.02 43.78 39.62 C45.47 38.22 46.85 36.72 47.83 35.77 C48.81 34.83 49.35 34.25 49.66 33.95 L46.62 32.93 C46.14 33.20 45.10 33.75 43.78 34.56 C42.46 35.37 40.57 36.84 38.71 37.80 C36.85 38.76 34.49 39.84 32.63 40.33 C30.77 40.82 29.42 41.01 27.56 40.74 C25.71 40.47 23.51 39.67 21.48 38.71 C19.46 37.75 17.26 35.99 15.40 34.96 C13.55 33.93 11.89 33.07 10.34 32.53 C8.78 31.99 6.79 31.85 6.08 31.72Z" fill="#fff" fill-opacity="0.45" stroke="none"/>
<path d="M17.43 25.33 C17.72 24.34 18.24 21.58 19.15 19.36 C20.06 17.13 21.26 14.22 22.90 11.96 C24.54 9.69 26.77 7.40 28.98 5.78 C31.20 4.15 33.80 3.07 36.18 2.23 C38.56 1.38 40.82 0.66 43.27 0.71 C45.72 0.76 48.59 1.35 50.87 2.53 C53.15 3.72 55.21 5.74 56.95 7.80 C58.69 9.86 60.26 12.40 61.31 14.90 C62.36 17.40 62.96 20.30 63.23 22.80 C63.50 25.30 63.17 27.87 62.93 29.89 C62.69 31.92 62.00 34.12 61.82 34.96" stroke-width="1.75"/>
<path d="M17.43 25.33 C18.27 25.52 19.96 25.77 22.50 26.45 C25.03 27.12 29.25 28.44 32.63 29.39 C36.01 30.33 39.89 31.33 42.76 32.12 C45.64 32.92 47.32 33.63 49.86 34.15 C52.39 34.67 55.97 35.13 57.97 35.27 C59.96 35.40 61.17 35.01 61.82 34.96" stroke-width="1.25"/>
<path d="M0.00 35.47 C1.22 34.66 4.90 32.04 7.30 30.60 C9.69 29.17 12.70 27.73 14.39 26.85 C16.08 25.98 16.92 25.59 17.43 25.33" stroke-width="1.6"/>
<path d="M0.00 35.47 C0.71 35.11 2.87 33.59 4.26 33.34 C5.64 33.09 6.79 33.34 8.31 33.95 C9.83 34.56 11.52 35.72 13.38 36.99 C15.23 38.25 17.43 40.18 19.46 41.55 C21.48 42.92 23.51 44.42 25.54 45.20 C27.56 45.97 29.59 46.38 31.62 46.21 C33.64 46.04 35.67 45.28 37.70 44.18 C39.72 43.09 42.09 41.02 43.78 39.62 C45.47 38.22 46.85 36.72 47.83 35.77 C48.81 34.83 49.35 34.25 49.66 33.95" stroke-width="1.8"/>
<path d="M6.08 31.72 C6.79 31.85 8.78 31.99 10.34 32.53 C11.89 33.07 13.55 33.93 15.40 34.96 C17.26 35.99 19.46 37.75 21.48 38.71 C23.51 39.67 25.71 40.47 27.56 40.74 C29.42 41.01 30.77 40.82 32.63 40.33 C34.49 39.84 36.85 38.76 38.71 37.80 C40.57 36.84 42.46 35.37 43.78 34.56 C45.10 33.75 46.14 33.20 46.62 32.93" stroke-width="1.2"/>
<path d="M43.27 1.01 C44.03 2.28 46.73 6.00 47.83 8.61 C48.93 11.23 49.59 13.68 49.86 16.72 C50.13 19.76 49.69 24.02 49.45 26.85 C49.22 29.69 48.61 32.60 48.44 33.75" stroke-width="1.05"/>
<path d="M35.47 2.74 C34.62 3.60 31.96 5.78 30.40 7.90 C28.85 10.03 27.43 12.48 26.15 15.50 C24.86 18.53 23.27 24.29 22.70 26.04" stroke-width="1.05"/>
<path d="M42.06 1.01 C42.31 0.81 43.09 -0.22 43.58 -0.20 C44.06 -0.19 44.76 0.90 44.99 1.11" stroke-width="1.0"/>
<path d="M63.54 25.94 L69.72 26.65 L69.01 30.00 L63.13 29.49" stroke-width="0.9"/>
</g>
<g transform="translate(675.2 293.3) scale(1 0.985)" fill="none" stroke="#241d1e" stroke-linecap="round" stroke-linejoin="round">
<path d="M4.26 33.34 C4.93 33.44 6.79 33.34 8.31 33.95 C9.83 34.56 11.52 35.72 13.38 36.99 C15.23 38.25 17.43 40.18 19.46 41.55 C21.48 42.92 23.51 44.42 25.54 45.20 C27.56 45.97 29.59 46.38 31.62 46.21 C33.64 46.04 35.67 45.28 37.70 44.18 C39.72 43.09 42.09 41.02 43.78 39.62 C45.47 38.22 46.85 36.72 47.83 35.77 C48.81 34.83 49.35 34.25 49.66 33.95 L46.62 32.93 C46.14 33.20 45.10 33.75 43.78 34.56 C42.46 35.37 40.57 36.84 38.71 37.80 C36.85 38.76 34.49 39.84 32.63 40.33 C30.77 40.82 29.42 41.01 27.56 40.74 C25.71 40.47 23.51 39.67 21.48 38.71 C19.46 37.75 17.26 35.99 15.40 34.96 C13.55 33.93 11.89 33.07 10.34 32.53 C8.78 31.99 6.79 31.85 6.08 31.72Z" fill="#fff" fill-opacity="0.45" stroke="none"/>
<path d="M17.43 25.33 C17.72 24.34 18.24 21.58 19.15 19.36 C20.06 17.13 21.26 14.22 22.90 11.96 C24.54 9.69 26.77 7.40 28.98 5.78 C31.20 4.15 33.80 3.07 36.18 2.23 C38.56 1.38 40.82 0.66 43.27 0.71 C45.72 0.76 48.59 1.35 50.87 2.53 C53.15 3.72 55.21 5.74 56.95 7.80 C58.69 9.86 60.26 12.40 61.31 14.90 C62.36 17.40 62.96 20.30 63.23 22.80 C63.50 25.30 63.17 27.87 62.93 29.89 C62.69 31.92 62.00 34.12 61.82 34.96" stroke-width="1.75"/>
<path d="M17.43 25.33 C18.27 25.52 19.96 25.77 22.50 26.45 C25.03 27.12 29.25 28.44 32.63 29.39 C36.01 30.33 39.89 31.33 42.76 32.12 C45.64 32.92 47.32 33.63 49.86 34.15 C52.39 34.67 55.97 35.13 57.97 35.27 C59.96 35.40 61.17 35.01 61.82 34.96" stroke-width="1.25"/>
<path d="M0.00 35.47 C1.22 34.66 4.90 32.04 7.30 30.60 C9.69 29.17 12.70 27.73 14.39 26.85 C16.08 25.98 16.92 25.59 17.43 25.33" stroke-width="1.6"/>
<path d="M0.00 35.47 C0.71 35.11 2.87 33.59 4.26 33.34 C5.64 33.09 6.79 33.34 8.31 33.95 C9.83 34.56 11.52 35.72 13.38 36.99 C15.23 38.25 17.43 40.18 19.46 41.55 C21.48 42.92 23.51 44.42 25.54 45.20 C27.56 45.97 29.59 46.38 31.62 46.21 C33.64 46.04 35.67 45.28 37.70 44.18 C39.72 43.09 42.09 41.02 43.78 39.62 C45.47 38.22 46.85 36.72 47.83 35.77 C48.81 34.83 49.35 34.25 49.66 33.95" stroke-width="1.8"/>
<path d="M6.08 31.72 C6.79 31.85 8.78 31.99 10.34 32.53 C11.89 33.07 13.55 33.93 15.40 34.96 C17.26 35.99 19.46 37.75 21.48 38.71 C23.51 39.67 25.71 40.47 27.56 40.74 C29.42 41.01 30.77 40.82 32.63 40.33 C34.49 39.84 36.85 38.76 38.71 37.80 C40.57 36.84 42.46 35.37 43.78 34.56 C45.10 33.75 46.14 33.20 46.62 32.93" stroke-width="1.2"/>
<path d="M43.27 1.01 C44.03 2.28 46.73 6.00 47.83 8.61 C48.93 11.23 49.59 13.68 49.86 16.72 C50.13 19.76 49.69 24.02 49.45 26.85 C49.22 29.69 48.61 32.60 48.44 33.75" stroke-width="1.05"/>
<path d="M35.47 2.74 C34.62 3.60 31.96 5.78 30.40 7.90 C28.85 10.03 27.43 12.48 26.15 15.50 C24.86 18.53 23.27 24.29 22.70 26.04" stroke-width="1.05"/>
<path d="M42.06 1.01 C42.31 0.81 43.09 -0.22 43.58 -0.20 C44.06 -0.19 44.76 0.90 44.99 1.11" stroke-width="1.0"/>
<path d="M63.54 25.94 L69.72 26.65 L69.01 30.00 L63.13 29.49" stroke-width="0.9"/>
</g>
</svg>

<!-- bar texts -->
<div class="bt" style="left:0px;width:112px;top:566px;">100–110cm</div>
<div class="bt" style="left:0px;width:112px;top:591px;">15–20kg</div>
<div class="bt" style="left:91px;width:112px;top:547px;">110–120cm</div>
<div class="bt" style="left:91px;width:112px;top:572px;">20–25kg</div>
<div class="bt" style="left:182px;width:112px;top:528px;">120–130cm</div>
<div class="bt" style="left:182px;width:112px;top:553px;">25–30kg</div>
<div class="bt" style="left:273.5px;width:112px;top:499px;">130–140cm</div>
<div class="bt" style="left:274.5px;width:112px;top:524px;">30–37.5kg</div>
<div class="bt" style="left:367.5px;width:112px;top:477px;">140–150cm</div>
<div class="bt" style="left:367px;width:112px;top:504.5px;">37.5–42kg</div>
<div class="bt" style="left:455.7px;width:112px;top:459px;">150–160cm</div>
<div class="bt" style="left:457px;width:112px;top:485.5px;">42–47kg</div>
<div class="bt" style="left:550px;width:112px;top:430.5px;">160–170cm</div>
<div class="bt" style="left:549px;width:112px;top:456.5px;">47–55kg</div>
<div class="bt" style="left:644px;width:112px;top:417px;">170–175cm</div>
<div class="bt" style="left:648.5px;width:112px;top:444px;">55–70kg</div>

<!-- x labels -->
<div class="xl" style="left:29.8px;">110</div>
<div class="xl" style="left:120.8px;">120</div>
<div class="xl" style="left:211.9px;">130</div>
<div class="xl" style="left:308.8px;">140</div>
<div class="xl" style="left:404.8px;">150</div>
<div class="xl" style="left:495.3px;">160</div>
<div class="xl" style="left:597.2px;">170</div>
<div class="xl" style="left:693.7px;">180</div>

<div id="badgeTxt" class="abs">お勧めサイズ</div>
</body>
</html>
